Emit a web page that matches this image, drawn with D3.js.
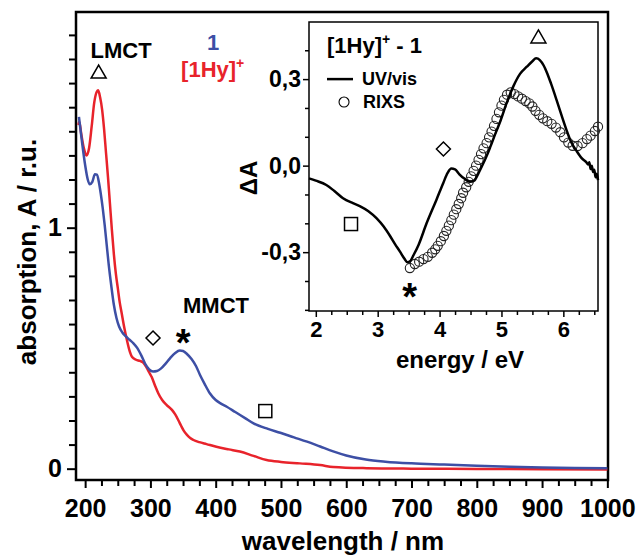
<!DOCTYPE html>
<html>
<head>
<meta charset="utf-8">
<script src="https://cdn.jsdelivr.net/npm/d3@7"></script>
<style>
  html, body { margin: 0; padding: 0; background: #fff; }
  svg text { font-family: "Liberation Sans", Arial, sans-serif; font-weight: bold; }
</style>
</head>
<body>
<svg id="chart" width="640" height="558"></svg>
<script>
// ---------------- DATA ----------------
// Main panel: absorption spectra (wavelength nm, absorbance)
const blueWavelength = [190.5,195,200,204,207,211,215,218,221,224,227,230,233,236,240,244,248,252,257,262,268,274,280,286,292,298,304,310,316,322,330,338,345,350,356,363,370,376,383,391,400,408,417,430,445,458,480,499,520,540,560,580,600,630,660,700,750,800,850,900,950,1000];
const blueAbs        = [1.46,1.36,1.26,1.20,1.18,1.19,1.222,1.22,1.19,1.14,1.08,1.01,0.93,0.85,0.76,0.68,0.625,0.59,0.565,0.55,0.535,0.52,0.50,0.47,0.435,0.412,0.403,0.405,0.415,0.432,0.458,0.48,0.49,0.488,0.476,0.455,0.425,0.389,0.352,0.313,0.285,0.27,0.257,0.235,0.21,0.188,0.165,0.149,0.13,0.112,0.092,0.072,0.055,0.038,0.029,0.022,0.017,0.012,0.008,0.005,0.003,0.002];

const redWavelength = [189.7,191,194,198,202,206,210,214,218,220,223,226,229,232,235,238,241,244,247,250,253,256,260,264,268,272,278,284,289,294,298,302,307,312,318,325,333,338,343,347,351,356,361,366,375,386,401,420,437,458,478,500,529,560,580,631,700,800,900,1000];
const redAbs        = [1.426,1.44,1.39,1.33,1.30,1.33,1.42,1.52,1.565,1.57,1.54,1.49,1.41,1.31,1.21,1.10,0.99,0.89,0.81,0.75,0.69,0.645,0.585,0.534,0.49,0.463,0.452,0.447,0.44,0.42,0.40,0.38,0.345,0.313,0.285,0.264,0.244,0.225,0.20,0.178,0.158,0.14,0.127,0.119,0.11,0.102,0.091,0.08,0.071,0.053,0.036,0.028,0.022,0.015,0.007,0.002,0.0,-0.001,-0.002,-0.003];

// Inset: difference spectra (energy eV, ΔA)
const uvEnergy = [1.89,2.0,2.17,2.3,2.44,2.6,2.71,2.85,2.98,3.1,3.2,3.28,3.36,3.43,3.48,3.53,3.58,3.66,3.79,3.95,4.06,4.13,4.19,4.25,4.32,4.4,4.49,4.56,4.62,4.68,4.76,4.82,4.9,4.98,5.08,5.19,5.3,5.41,5.5,5.56,5.62,5.68,5.73,5.8,5.89,5.97,6.05,6.13,6.21,6.3,6.37,6.40,6.42,6.44,6.46,6.48,6.50,6.52,6.54,6.56];
const uvDeltaA = [-0.044,-0.052,-0.067,-0.088,-0.113,-0.13,-0.14,-0.158,-0.182,-0.212,-0.244,-0.272,-0.298,-0.322,-0.335,-0.33,-0.31,-0.275,-0.2,-0.118,-0.06,-0.025,-0.01,-0.013,-0.03,-0.045,-0.056,-0.052,-0.03,-0.004,0.033,0.065,0.11,0.153,0.215,0.274,0.318,0.343,0.362,0.372,0.366,0.348,0.325,0.285,0.228,0.175,0.124,0.08,0.052,0.025,0.012,0.004,0.012,-0.012,0.0,-0.022,-0.014,-0.04,-0.028,-0.05];

const rixsEnergy = [3.52,3.60,3.67,3.74,3.81,3.88,3.93,3.97,4.02,4.07,4.11,4.15,4.19,4.23,4.27,4.31,4.35,4.38,4.43,4.47,4.51,4.55,4.59,4.63,4.67,4.71,4.76,4.80,4.84,4.88,4.92,4.96,5.00,5.04,5.09,5.15,5.21,5.27,5.33,5.39,5.45,5.50,5.55,5.61,5.67,5.74,5.81,5.88,5.95,6.01,6.08,6.15,6.23,6.31,6.38,6.44,6.51,6.56];
const rixsDeltaA = [-0.355,-0.341,-0.333,-0.324,-0.316,-0.302,-0.29,-0.278,-0.262,-0.244,-0.226,-0.208,-0.189,-0.17,-0.151,-0.133,-0.113,-0.094,-0.075,-0.056,-0.037,-0.018,0.0,0.02,0.04,0.06,0.078,0.098,0.118,0.138,0.162,0.185,0.208,0.228,0.246,0.254,0.248,0.24,0.232,0.224,0.216,0.205,0.19,0.176,0.164,0.154,0.145,0.132,0.116,0.098,0.08,0.069,0.068,0.078,0.092,0.104,0.12,0.135];

// Tick values and labels
const mainXMajor = [200,300,400,500,600,700,800,900,1000];
const mainXMajorLabels = ["200","300","400","500","600","700","800","900","1000"];
const mainYMajor = [0,1];
const mainYMajorLabels = ["0","1"];
const insetXMajor = [2,3,4,5,6];
const insetXMajorLabels = ["2","3","4","5","6"];
const insetYMajor = [-0.3,0,0.3];
const insetYMajorLabels = ["-0,3","0,0","0,3"];

// Series names / labels
const seriesNames = ["1", "[1Hy]"];
const axisTitles = {x: "wavelength / nm", y: "absorption, A / r.u.", ix: "energy / eV", iy: "ΔA"};
const insetTitle = "[1Hy]";
const legendNames = ["UV/vis", "RIXS"];

// Annotation markers (data coordinates)
const mainMarkers = [
  {type: "triangle", x: 220.7, y: 1.646},
  {type: "diamond",  x: 304,   y: 0.542},
  {type: "star",     x: 350,   y: 0.555},
  {type: "square",   x: 476,   y: 0.239}
];
const insetMarkers = [
  {type: "triangle", x: 5.597, y: 0.446},
  {type: "diamond",  x: 4.062, y: 0.0576},
  {type: "square",   x: 2.569, y: -0.2025},
  {type: "star",     x: 3.515, y: -0.428}
];

// ---------------- DRAW ----------------
const svg = d3.select("#chart");
const blue = "#3d4fa5", red = "#e8232b";

const x = d3.scaleLinear([186, 1001], [76, 608]);
const y = d3.scaleLinear([-0.047, 1.895], [480, 12]);

const ix = d3.scaleLinear([1.89, 6.56], [309, 598]);
const iy = d3.scaleLinear([-0.504, 0.498], [311, 22]);

function drawMarker(g, m, sx, sy) {
  const cx = sx(m.x), cy = sy(m.y);
  if (m.type === "triangle") {
    g.append("path").attr("d", `M${cx},${cy-7} L${cx+7.5},${cy+6} L${cx-7.5},${cy+6} Z`)
      .attr("fill", "#fff").attr("stroke", "#000").attr("stroke-width", 1.5);
  } else if (m.type === "diamond") {
    g.append("path").attr("d", `M${cx},${cy-7} L${cx+7},${cy} L${cx},${cy+7} L${cx-7},${cy} Z`)
      .attr("fill", "#fff").attr("stroke", "#000").attr("stroke-width", 1.5);
  } else if (m.type === "square") {
    g.append("rect").attr("x", cx-6.5).attr("y", cy-6.5).attr("width", 13).attr("height", 13)
      .attr("fill", "#fff").attr("stroke", "#000").attr("stroke-width", 1.5);
  } else if (m.type === "star") {
    g.append("text").attr("x", cx).attr("y", cy + 21).attr("text-anchor", "middle")
      .attr("font-size", 38).text("*");
  }
}

// ---- Main panel ----
const main = svg.append("g");

// minor x ticks
main.append("g").attr("transform", "translate(0,480)")
  .call(d3.axisBottom(x).tickValues(d3.range(200, 1001, 25).filter(v => v % 100 !== 0)).tickSize(6).tickFormat(""))
  .call(g => g.select(".domain").remove())
  .call(g => g.selectAll("line").attr("stroke", "#000").attr("stroke-width", 2));
// major x ticks
main.append("g").attr("transform", "translate(0,480)")
  .call(d3.axisBottom(x).tickValues(mainXMajor).tickSize(8).tickPadding(11)
        .tickFormat((d, i) => mainXMajorLabels[i]))
  .call(g => g.select(".domain").remove())
  .call(g => g.selectAll("line").attr("stroke", "#000").attr("stroke-width", 2))
  .call(g => g.selectAll("text").attr("font-size", 25).attr("fill", "#000")
        .attr("font-family", "Liberation Sans, Arial, sans-serif").attr("font-weight", "bold"));

// minor y ticks
main.append("g").attr("transform", "translate(76,0)")
  .call(d3.axisLeft(y).tickValues(d3.range(1, 19).filter(v => v !== 10).map(v => v / 10)).tickSize(7).tickFormat(""))
  .call(g => g.select(".domain").remove())
  .call(g => g.selectAll("line").attr("stroke", "#000").attr("stroke-width", 2));
// major y ticks
main.append("g").attr("transform", "translate(76,0)")
  .call(d3.axisLeft(y).tickValues(mainYMajor).tickSize(9).tickPadding(5)
        .tickFormat((d, i) => mainYMajorLabels[i]))
  .call(g => g.select(".domain").remove())
  .call(g => g.selectAll("line").attr("stroke", "#000").attr("stroke-width", 2))
  .call(g => g.selectAll("text").attr("font-size", 25).attr("fill", "#000")
        .attr("font-family", "Liberation Sans, Arial, sans-serif").attr("font-weight", "bold"));

// frame
main.append("rect").attr("x", 76).attr("y", 12).attr("width", 532).attr("height", 468)
  .attr("fill", "none").attr("stroke", "#000").attr("stroke-width", 2.5);

// curves
const mainLine = d3.line().x(d => x(d[0])).y(d => y(d[1])).curve(d3.curveMonotoneX);
main.append("path").datum(d3.zip(redWavelength, redAbs)).attr("d", mainLine)
  .attr("fill", "none").attr("stroke", red).attr("stroke-width", 2.5);
main.append("path").datum(d3.zip(blueWavelength, blueAbs)).attr("d", mainLine)
  .attr("fill", "none").attr("stroke", blue).attr("stroke-width", 2.5);

// axis titles
main.append("text").attr("x", 343).attr("y", 550).attr("text-anchor", "middle")
  .attr("font-size", 26).attr("fill", "#000").text(axisTitles.x);
main.append("text").attr("transform", "translate(36,252) rotate(-90)").attr("text-anchor", "middle")
  .attr("font-size", 26).attr("fill", "#000").text(axisTitles.y);

// labels
main.append("text").attr("x", x(255)).attr("y", y(1.704)).attr("text-anchor", "middle")
  .attr("font-size", 22).text("LMCT");
main.append("text").attr("x", x(350)).attr("y", y(0.646)).attr("text-anchor", "start")
  .attr("font-size", 22).text("MMCT");
main.append("text").attr("x", x(396)).attr("y", y(1.737)).attr("text-anchor", "middle")
  .attr("font-size", 22).attr("fill", blue).text(seriesNames[0]);
const hy = main.append("text").attr("x", x(347)).attr("y", y(1.625)).attr("text-anchor", "start")
  .attr("font-size", 22).attr("fill", red);
hy.append("tspan").text(seriesNames[1]);
hy.append("tspan").attr("font-size", 14).attr("dy", -9).text("+");

mainMarkers.forEach(m => drawMarker(main, m, x, y));

// ---- Inset ----
const inset = svg.append("g");
inset.append("rect").attr("x", 309).attr("y", 22).attr("width", 289).attr("height", 289)
  .attr("fill", "#fff").attr("stroke", "none");

// minor ticks x
inset.append("g").attr("transform", "translate(0,311)")
  .call(d3.axisBottom(ix).tickValues(d3.range(2, 6.51, 0.25).filter(v => Math.abs(v - Math.round(v)) > 0.01)).tickSize(4).tickFormat(""))
  .call(g => g.select(".domain").remove())
  .call(g => g.selectAll("line").attr("stroke", "#000").attr("stroke-width", 1.5));
inset.append("g").attr("transform", "translate(0,311)")
  .call(d3.axisBottom(ix).tickValues(insetXMajor).tickSize(6).tickPadding(4)
        .tickFormat((d, i) => insetXMajorLabels[i]))
  .call(g => g.select(".domain").remove())
  .call(g => g.selectAll("line").attr("stroke", "#000").attr("stroke-width", 1.5))
  .call(g => g.selectAll("text").attr("font-size", 22).attr("fill", "#000")
        .attr("font-family", "Liberation Sans, Arial, sans-serif").attr("font-weight", "bold"));

// minor ticks y
inset.append("g").attr("transform", "translate(309,0)")
  .call(d3.axisLeft(iy).tickValues([-0.5,-0.4,-0.2,-0.1,0.1,0.2,0.4]).tickSize(4).tickFormat(""))
  .call(g => g.select(".domain").remove())
  .call(g => g.selectAll("line").attr("stroke", "#000").attr("stroke-width", 1.5));
inset.append("g").attr("transform", "translate(309,0)")
  .call(d3.axisLeft(iy).tickValues(insetYMajor).tickSize(6).tickPadding(2)
        .tickFormat((d, i) => insetYMajorLabels[i]))
  .call(g => g.select(".domain").remove())
  .call(g => g.selectAll("line").attr("stroke", "#000").attr("stroke-width", 1.5))
  .call(g => g.selectAll("text").attr("font-size", 23).attr("fill", "#000")
        .attr("font-family", "Liberation Sans, Arial, sans-serif").attr("font-weight", "bold"));

inset.append("rect").attr("x", 309).attr("y", 22).attr("width", 289).attr("height", 289)
  .attr("fill", "none").attr("stroke", "#000").attr("stroke-width", 1.5);

// RIXS circles
inset.append("g").selectAll("circle").data(d3.zip(rixsEnergy, rixsDeltaA)).join("circle")
  .attr("cx", d => ix(d[0])).attr("cy", d => iy(d[1])).attr("r", 4.6)
  .attr("fill", "none").attr("stroke", "#222").attr("stroke-width", 1.1);

// UV/vis line
const insetLine = d3.line().x(d => ix(d[0])).y(d => iy(d[1]));
inset.append("path").datum(d3.zip(uvEnergy, uvDeltaA)).attr("d", insetLine.curve(d3.curveMonotoneX))
  .attr("fill", "none").attr("stroke", "#000").attr("stroke-width", 2.5);

// inset titles
inset.append("text").attr("x", 460).attr("y", 368).attr("text-anchor", "middle")
  .attr("font-size", 24).text(axisTitles.ix);
inset.append("text").attr("transform", "translate(257,178) rotate(-90)").attr("text-anchor", "middle")
  .attr("font-size", 24).text(axisTitles.iy);

const it = inset.append("text").attr("x", ix(2.181)).attr("y", iy(0.391)).attr("font-size", 22);
it.append("tspan").text(insetTitle);
it.append("tspan").attr("font-size", 14).attr("dy", -9).text("+");
it.append("tspan").attr("dy", 9).text(" - 1");

// legend
inset.append("line").attr("x1", ix(2.181)).attr("x2", ix(2.601)).attr("y1", iy(0.300)).attr("y2", iy(0.300))
  .attr("stroke", "#000").attr("stroke-width", 2.5);
inset.append("text").attr("x", ix(2.746)).attr("y", iy(0.279)).attr("font-size", 18).text(legendNames[0]);
inset.append("circle").attr("cx", ix(2.456)).attr("cy", iy(0.2205)).attr("r", 5)
  .attr("fill", "none").attr("stroke", "#000").attr("stroke-width", 1.1);
inset.append("text").attr("x", ix(2.763)).attr("y", iy(0.1997)).attr("font-size", 18).text(legendNames[1]);

insetMarkers.forEach(m => drawMarker(inset, m, ix, iy));
</script>
</body>
</html>
